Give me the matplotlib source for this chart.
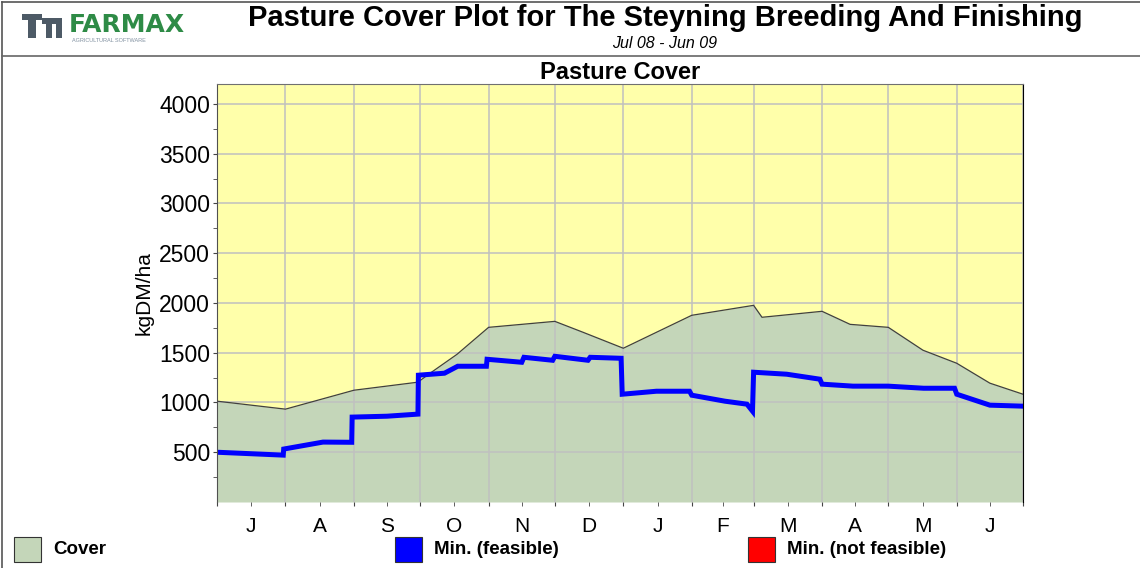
"""Pasture cover plot (Farmax style) recreated with matplotlib."""
import matplotlib
matplotlib.use("Agg")
import matplotlib.pyplot as plt
from matplotlib.patches import Rectangle
from matplotlib.lines import Line2D

# ---------------------------------------------------------------------------
# Data (x in days from 1 July 2008, y in kgDM/ha)
# ---------------------------------------------------------------------------
MONTH_STARTS = [0, 31, 62, 92, 123, 153, 184, 215, 243, 274, 304, 335, 365]
MONTH_LABELS = ["J", "A", "S", "O", "N", "D", "J", "F", "M", "A", "M", "J"]

cover_days = [0, 31, 62, 91, 96.5, 108.7, 123, 153, 165.8, 184, 215, 243,
              246.8, 274, 286.7, 304, 319.7, 335, 350, 365]
cover_vals = [1013, 933, 1123, 1204, 1294, 1484, 1755, 1815, 1705, 1545, 1876,
              1976, 1856, 1916, 1785, 1755, 1525, 1394, 1194, 1083]

min_days = [0, 30, 30.2, 48, 61, 61.2, 77, 91, 91.2, 103, 109, 122, 122.3,
            138, 139, 152, 153, 168, 169, 183, 183.5, 199, 214, 215, 230,
            240, 242.5, 243, 258, 273, 274, 288, 304, 320, 334, 335, 350, 365]
min_vals = [500, 471, 532, 602, 600, 853, 862, 883, 1274, 1294, 1364, 1364,
            1434, 1404, 1454, 1424, 1464, 1424, 1454, 1444, 1083, 1113, 1113,
            1073, 1013, 983, 913, 1304, 1284, 1234, 1184, 1164, 1164, 1143,
            1143, 1083, 973, 963]

TITLE = "Pasture Cover Plot for The Steyning Breeding And Finishing"
SUBTITLE = "Jul 08 - Jun 09"

YELLOW = "#FFFFAA"
GREEN = "#C4D6B9"
BLUE = "#0000FF"
RED = "#FF0000"
GRID = "#C0C0C0"

plt.rcParams["font.family"] = ["Liberation Sans", "DejaVu Sans"]

fig = plt.figure(figsize=(11.4, 5.68), dpi=100)
W, H = 1140, 568


def fx(px):
    return px / W


def fy(py):
    return 1 - py / H


# frame lines
fig.add_artist(Line2D([fx(2), fx(2)], [0, fy(2)], color="#555555", lw=1.2))
fig.add_artist(Line2D([fx(2), 1], [fy(2), fy(2)], color="#555555", lw=1.2))
fig.add_artist(Line2D([fx(2), 1], [fy(56), fy(56)], color="#666666", lw=1.2))

# logo
for (x0, y0, w, h) in [(22, 14, 20, 6), (28, 20, 8, 18), (42, 18, 20, 6),
                       (46, 24, 6, 14), (56, 24, 6, 14)]:
    fig.add_artist(Rectangle((fx(x0), fy(y0 + h)), w / W, h / H,
                             color="#4D5A66", lw=0))
fig.text(fx(69), fy(25), "FARMAX", color="#2E8B46", fontsize=18,
         fontweight="bold", va="center", ha="left", family="DejaVu Sans")
fig.text(fx(72), fy(41), "AGRICULTURAL SOFTWARE", color="#8090A0",
         fontsize=4, va="center", ha="left")

fig.text(fx(665), fy(18), TITLE, fontsize=21, fontweight="bold",
         ha="center", va="center")
fig.text(fx(665), fy(43), SUBTITLE, fontsize=11.5, style="italic",
         ha="center", va="center")

ax = fig.add_axes([fx(217), fy(502), (1023 - 217) / W, (502 - 84) / H])
ax.set_facecolor(YELLOW)

ax.fill_between(cover_days, cover_vals, 0, color=GREEN, lw=0, zorder=1)
ax.plot(cover_days, cover_vals, color="#404040", lw=0.9, zorder=3)
ax.plot(min_days, min_vals, color=BLUE, lw=3.6, solid_joinstyle="miter",
        zorder=4)

ax.set_xlim(0, 365)
ax.set_ylim(0, 4200)

ax.set_xticks(MONTH_STARTS)
ax.set_xticklabels([])
mids = [(a + b) / 2 for a, b in zip(MONTH_STARTS[:-1], MONTH_STARTS[1:])]
ax.set_xticks(mids, minor=True)
ax.set_xticklabels(MONTH_LABELS, minor=True, fontsize=15)
ax.tick_params(axis="x", which="both", length=3, color="#444444", pad=8)

ax.set_yticks(range(500, 4001, 500))
ax.set_yticks(range(250, 4200, 500), minor=True)
ax.tick_params(axis="y", which="major", labelsize=16.5, length=3,
               color="#444444", pad=2)
ax.tick_params(axis="y", which="minor", length=3, color="#444444")

ax.grid(True, which="major", color=GRID, lw=1.1, zorder=2)
ax.set_axisbelow(False)

ax.spines["bottom"].set_visible(False)
ax.spines["left"].set_color("#505050")
ax.spines["right"].set_color("#000000")
ax.spines["top"].set_color("#707070")
for s in ax.spines.values():
    s.set_zorder(5)

ax.set_ylabel("kgDM/ha", fontsize=15, labelpad=4)
ax.set_title("Pasture Cover", fontsize=17, fontweight="bold", pad=3)

# legend
legend_items = [(14, "Cover", GREEN), (395, "Min. (feasible)", BLUE),
                (748, "Min. (not feasible)", RED)]
for x0, label, col in legend_items:
    fig.add_artist(Rectangle((fx(x0), fy(562)), 27 / W, 25 / H,
                             facecolor=col, edgecolor="#333333", lw=0.8))
    fig.text(fx(x0 + 39), fy(549), label, fontsize=13.5, fontweight="bold",
             ha="left", va="center")

fig.savefig("out.png", dpi=100)
